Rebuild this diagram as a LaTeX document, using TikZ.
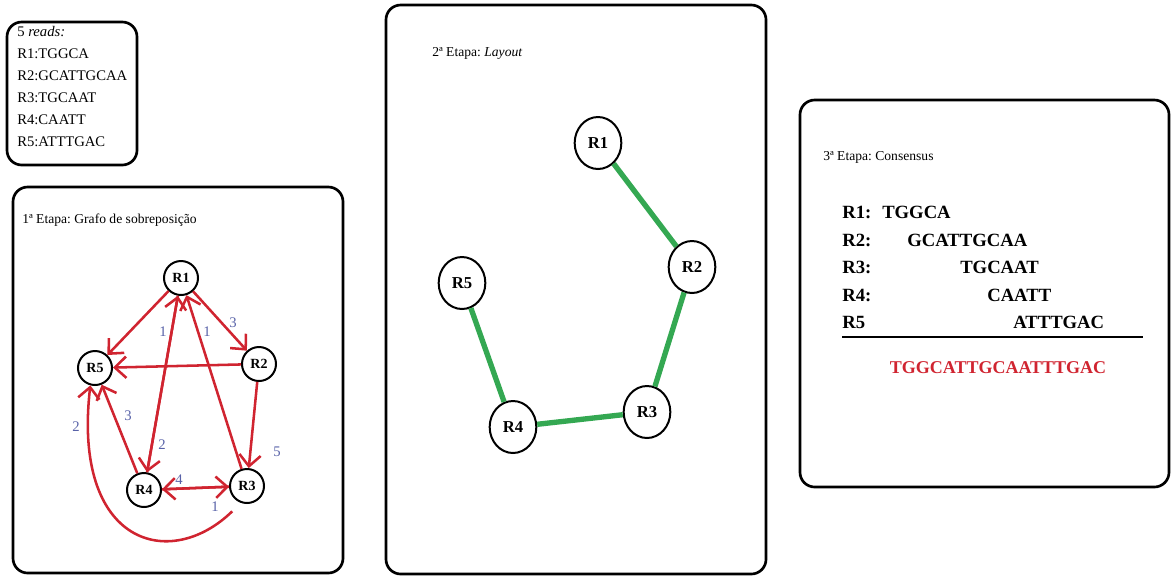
\documentclass[tikz,border=0pt]{standalone}
\usepackage{fontspec}
\setmainfont{Liberation Serif}
\usetikzlibrary{arrows.meta,shapes.geometric}
\definecolor{edgered}{RGB}{208,36,48}
\definecolor{wblue}{RGB}{88,98,168}
\definecolor{layoutgreen}{RGB}{52,168,82}
\frenchspacing

\begin{document}
\begin{tikzpicture}[x=0.75pt,y=-0.75pt,
  panel/.style={draw,line width=2pt,rounded corners=11pt},
  readtxt/.style={anchor=west,inner sep=0pt,font=\fontsize{11}{13}\selectfont},
  steptitle/.style={anchor=west,inner sep=0pt,font=\fontsize{10.2}{12}\selectfont},
  gnode/.style={circle,draw,line width=1.5pt,minimum size=25.5pt,inner sep=0pt,font=\fontsize{10.5}{12}\selectfont\bfseries},
  lnode/.style={ellipse,draw,line width=1.5pt,minimum width=35pt,minimum height=39pt,inner sep=0pt,font=\fontsize{12.5}{14}\selectfont\bfseries},
  redarr/.style={draw=edgered,line width=1.9pt,-{Straight Barb[length=8.5pt,width=16pt]}},
  wlab/.style={text=wblue,inner sep=0pt,font=\fontsize{11}{12}\selectfont},
  glink/.style={draw=layoutgreen,line width=4pt},
  cons/.style={anchor=west,inner sep=0pt,font=\fontsize{14}{16}\selectfont\bfseries}]
\useasboundingbox (0,0) rectangle (1171,576);
\draw[panel] (7,22) rectangle (137,165);
\draw[panel] (13,187) rectangle (343,573);
\draw[panel] (386,5) rectangle (766,574);
\draw[panel] (800,100) rectangle (1169,487);
\node[readtxt] (rd0) at (17,32) {5 \textit{reads:}};
\node[readtxt] (rd1) at (17,54) {R1:TGGCA};
\node[readtxt] (rd2) at (17,76) {R2:GCATTGCAA};
\node[readtxt] (rd3) at (17,98) {R3:TGCAAT};
\node[readtxt] (rd4) at (17,120) {R4:CAATT};
\node[readtxt] (rd5) at (17,142) {R5:ATTTGAC};
\node[steptitle] (t1) at (22,220) {1ª Etapa: Grafo de sobreposição};
\node[gnode] (gR1) at (181,278) {R1};
\node[gnode] (gR2) at (259,364) {R2};
\node[gnode] (gR3) at (247,486) {R3};
\node[gnode] (gR4) at (144,490) {R4};
\node[gnode] (gR5) at (95,368) {R5};
\draw[redarr] (gR1) -- (gR5);
\draw[redarr] (gR1) -- (gR2);
\draw[redarr] (gR2) -- (gR5);
\draw[redarr] (gR2) -- (gR3);
\draw[redarr] (gR3) -- (gR1);
\draw[redarr] (gR1) -- (gR4);
\draw[redarr] (gR4) -- (gR1);
\draw[redarr] (gR4) -- (gR5);
\draw[redarr] (gR4) -- (gR3);
\draw[redarr] (gR3) -- (gR4);
\draw[redarr,shorten <=9pt] (gR3.250) .. controls (170,572) and (72,545) .. (gR5.255);
\node[wlab] (w12) at (233,323) {3};
\node[wlab] (w41) at (163,332) {1};
\node[wlab] (w31) at (207,332) {1};
\node[wlab] (w14) at (162,445) {2};
\node[wlab] (w23) at (277,452) {5};
\node[wlab] (w45) at (128,416) {3};
\node[wlab] (w35) at (76,427) {2};
\node[wlab] (w34) at (179,480) {4};
\node[wlab] (w43) at (215,507) {1};
\node[steptitle] (t2) at (432,53) {2ª Etapa: \textit{Layout}};
\node[lnode] (lR1) at (598,143) {R1};
\node[lnode] (lR2) at (692,267) {R2};
\node[lnode] (lR3) at (647,412) {R3};
\node[lnode] (lR4) at (513,427) {R4};
\node[lnode] (lR5) at (462,283) {R5};
\draw[glink] (lR1) -- (lR2);
\draw[glink] (lR2) -- (lR3);
\draw[glink] (lR3) -- (lR4);
\draw[glink] (lR4) -- (lR5);
\node[steptitle] (t3) at (823,157) {3ª Etapa: Consensus};
\node[cons] (cR1) at (842,212) {R1:};
\node[cons] (cS1) at (882,212) {TGGCA};
\node[cons] (cR2) at (842,240) {R2:};
\node[cons] (cS2) at (907,240) {GCATTGCAA};
\node[cons] (cR3) at (842,267) {R3:};
\node[cons] (cS3) at (960,267) {TGCAAT};
\node[cons] (cR4) at (842,295) {R4:};
\node[cons] (cS4) at (987,295) {CAATT};
\node[cons] (cR5) at (842,322) {R5};
\node[cons] (cS5) at (1013,322) {ATTTGAC};
\draw[line width=1.8pt] (842,337) -- (1143,337);
\node[cons,anchor=center,text=edgered,font=\fontsize{13.5}{16}\selectfont\bfseries] (cAll) at (998,368) {TGGCATTGCAATTTGAC};
\end{tikzpicture}
\end{document}
